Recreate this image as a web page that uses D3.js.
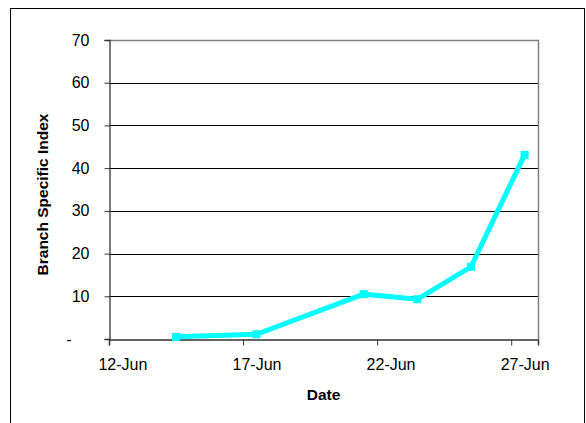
<!DOCTYPE html>
<html>
<head>
<meta charset="utf-8">
<script src="https://cdn.jsdelivr.net/npm/d3@7"></script>
<style>
  html, body { margin: 0; padding: 0; background: #fff; }
  svg { display: block; font-family: "Liberation Sans", Arial, sans-serif; }
</style>
</head>
<body>
<svg id="chart" width="586" height="423"></svg>
<script>
// ---- data ----
const dates = ["2006-06-14", "2006-06-17", "2006-06-21", "2006-06-23", "2006-06-25", "2006-06-27"];
const values = [0.5, 1.1, 10.5, 9.3, 16.9, 43.1];
const xTickDates = ["2006-06-12", "2006-06-17", "2006-06-22", "2006-06-27"];
const yTicks = [0, 10, 20, 30, 40, 50, 60, 70];
const xTitle = "Date";
const yTitle = "Branch Specific Index";

const parse = d3.timeParse("%Y-%m-%d");
const svg = d3.select("#chart");

const plot = { left: 109, right: 538, top: 40, bottom: 339 };

// outer frame
svg.append("rect")
  .attr("x", 10.5).attr("y", 8.5)
  .attr("width", 574).attr("height", 430)
  .attr("fill", "none").attr("stroke", "#000").attr("stroke-width", 1);

const x = d3.scaleTime()
  .domain([parse("2006-06-12"), parse("2006-06-28")])
  .range([plot.left, plot.right]);
const y = d3.scaleLinear().domain([0, 70]).range([plot.bottom, plot.top]);
const halfDay = x(d3.timeHour.offset(parse("2006-06-12"), 12)) - x(parse("2006-06-12"));

// gridlines
svg.append("g").selectAll("line")
  .data(yTicks.filter(v => v > 0 && v < 70))
  .join("line")
  .attr("x1", plot.left).attr("x2", plot.right)
  .attr("y1", d => Math.round(y(d)) + 0.5).attr("y2", d => Math.round(y(d)) + 0.5)
  .attr("stroke", "#000").attr("stroke-width", 1);

// plot area top & right border (gray)
svg.append("path")
  .attr("d", `M${plot.left},${plot.top + 0.5}H${plot.right + 0.5}V${plot.bottom}`)
  .attr("fill", "none").attr("stroke", "#808080").attr("stroke-width", 1.5);

// y axis
const yAxis = d3.axisLeft(y).tickValues(yTicks).tickSize(5).tickPadding(15)
  .tickFormat(d => d === 0 ? "-" : d);
const gy = svg.append("g").attr("transform", `translate(${plot.left + 0.5},0)`).call(yAxis);
gy.select(".domain").attr("stroke", "#333").attr("stroke-width", 1.3);
gy.selectAll(".tick line").attr("stroke", "#333");
gy.selectAll(".tick text").attr("font-size", 16).attr("fill", "#000")
  .attr("font-family", "Liberation Sans, Arial, sans-serif")
  .attr("dx", d => d === 0 ? -18 : 0);

// x axis (labels centred within their day)
const xAxis = d3.axisBottom(x).tickValues(xTickDates.map(parse)).tickSize(6).tickPadding(13)
  .tickFormat(d3.timeFormat("%-d-%b"));
const gx = svg.append("g").attr("transform", `translate(0,${plot.bottom + 0.5})`).call(xAxis);
gx.select(".domain").attr("stroke", "#333").attr("stroke-width", 1.5);
gx.selectAll(".tick line").attr("stroke", "#333");
gx.selectAll(".tick text").attr("font-size", 16).attr("fill", "#000")
  .attr("font-family", "Liberation Sans, Arial, sans-serif")
  .attr("x", halfDay);

// line (points centered within their day)
const pts = dates.map((d, i) => ({ t: d3.timeHour.offset(parse(d), 12), v: values[i] }));
const line = d3.line().x(d => x(d.t)).y(d => y(d.v));
svg.append("path").datum(pts)
  .attr("d", line)
  .attr("fill", "none").attr("stroke", "#00FFFF").attr("stroke-width", 5)
  .attr("stroke-linejoin", "miter");

svg.append("g").selectAll("rect").data(pts).join("rect")
  .attr("x", d => x(d.t) - 4).attr("y", d => y(d.v) - 4)
  .attr("width", 8).attr("height", 8)
  .attr("fill", "#00FFFF");

// axis titles
svg.append("text")
  .attr("x", (plot.left + plot.right) / 2).attr("y", 400)
  .attr("text-anchor", "middle").attr("font-size", 15.5).attr("font-weight", "bold")
  .text(xTitle);

svg.append("text")
  .attr("transform", `translate(48,${(plot.top + plot.bottom) / 2 + 5}) rotate(-90)`)
  .attr("text-anchor", "middle").attr("font-size", 15.5).attr("font-weight", "bold")
  .text(yTitle);
</script>
</body>
</html>
